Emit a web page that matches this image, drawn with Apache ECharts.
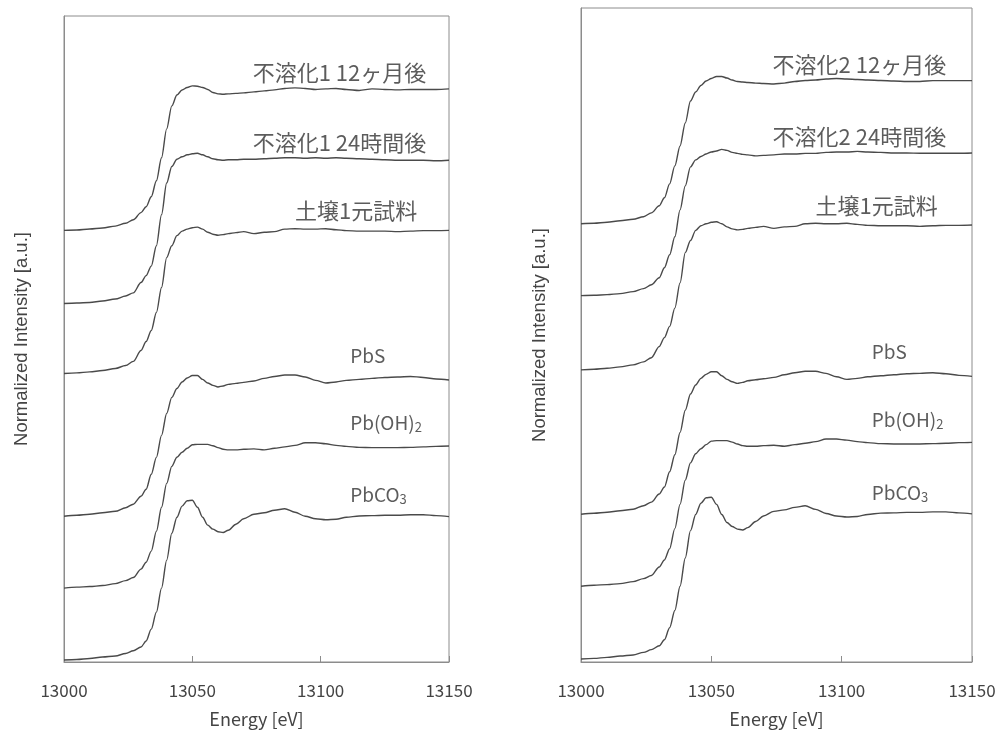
<!DOCTYPE html>
<html>
<head>
<meta charset="utf-8">
<script src="https://cdn.jsdelivr.net/npm/echarts@6/dist/echarts.min.js"></script>
<style>
  html, body { margin: 0; padding: 0; background: #fff; }
  #chart { width: 1001px; height: 733px; }
</style>
</head>
<body>
<div id="chart"></div>
<script>
// energy grid [eV]
var energy = [13000, 13005, 13010, 13015, 13020, 13024, 13027, 13030, 13032, 13034,
  13036, 13038, 13040, 13042, 13044, 13046, 13048, 13050, 13052, 13054,
  13056, 13058, 13060, 13062, 13064, 13067, 13070, 13074, 13078, 13082,
  13086, 13090, 13094, 13098, 13102, 13106, 13110, 13115, 13120, 13125,
  13130, 13135, 13140, 13145, 13150];

// normalized spectra (pre-edge = 0)
var fix1_12m = [0, 0.003, 0.01, 0.017, 0.03, 0.05, 0.075, 0.125, 0.167, 0.237,
  0.35, 0.512, 0.716, 0.878, 0.955, 0.99, 1.008, 1.019, 1.017, 1.008,
  0.994, 0.973, 0.963, 0.96, 0.963, 0.966, 0.97, 0.977, 0.984, 0.991,
  1.001, 1.005, 1.001, 0.994, 0.998, 1.001, 0.994, 0.987, 0.998, 0.994,
  0.991, 0.994, 0.994, 0.994, 0.998];
var fix1_24h = [0, 0.004, 0.007, 0.018, 0.032, 0.053, 0.075, 0.148, 0.197, 0.264,
  0.408, 0.627, 0.85, 0.967, 1.018, 1.035, 1.049, 1.056, 1.06, 1.049,
  1.035, 1.021, 1.014, 1.011, 1.014, 1.014, 1.018, 1.018, 1.021, 1.025,
  1.028, 1.028, 1.025, 1.028, 1.025, 1.028, 1.025, 1.021, 1.018, 1.014,
  1.011, 1.011, 1.011, 1.007, 1.011];
var fix2_12m = [0, 0.003, 0.01, 0.021, 0.031, 0.049, 0.076, 0.125, 0.181, 0.278,
  0.403, 0.542, 0.702, 0.855, 0.918, 0.963, 0.994, 1.012, 1.026, 1.026,
  1.015, 1.001, 0.991, 0.987, 0.984, 0.98, 0.977, 0.974, 0.98, 0.991,
  0.998, 1.001, 1.008, 1.012, 1.008, 1.005, 1.001, 0.998, 0.994, 0.991,
  0.991, 0.997, 0.997, 0.997, 0.997];
var fix2_24h = [0, 0.003, 0.007, 0.014, 0.028, 0.049, 0.076, 0.125, 0.195, 0.285,
  0.41, 0.598, 0.765, 0.897, 0.946, 0.97, 0.987, 1.001, 1.008, 1.019,
  1.012, 0.998, 0.991, 0.984, 0.981, 0.974, 0.977, 0.981, 0.987, 0.987,
  0.991, 0.991, 0.998, 1.001, 1.001, 1.005, 1.001, 0.998, 0.994, 0.994,
  0.992, 0.992, 0.992, 0.992, 0.994];
var soil1 = [0, 0.004, 0.011, 0.021, 0.035, 0.056, 0.085, 0.162, 0.225, 0.303,
  0.43, 0.606, 0.817, 0.901, 0.972, 1.004, 1.018, 1.028, 1.032, 1.018,
  0.996, 0.982, 0.975, 0.979, 0.986, 0.993, 1.0, 0.986, 0.996, 1.0,
  1.018, 1.021, 1.018, 1.018, 1.021, 1.014, 1.007, 1.004, 1.004, 1.004,
  1.0, 1.004, 1.007, 1.007, 1.009];
var pbs = [0, 0.007, 0.014, 0.025, 0.035, 0.06, 0.085, 0.141, 0.19, 0.296,
  0.415, 0.57, 0.725, 0.838, 0.901, 0.947, 0.975, 0.993, 0.993, 0.965,
  0.94, 0.923, 0.912, 0.919, 0.93, 0.937, 0.944, 0.954, 0.972, 0.986,
  0.996, 0.996, 0.982, 0.958, 0.94, 0.947, 0.958, 0.965, 0.972, 0.979,
  0.982, 0.986, 0.979, 0.968, 0.961];
var pboh2 = [0, 0.007, 0.011, 0.018, 0.032, 0.053, 0.075, 0.134, 0.183, 0.261,
  0.401, 0.57, 0.739, 0.859, 0.923, 0.958, 0.986, 1.011, 1.014, 1.014,
  1.014, 1.004, 0.991, 0.979, 0.975, 0.975, 0.979, 0.982, 0.975, 0.986,
  0.996, 1.007, 1.025, 1.025, 1.018, 1.007, 1.0, 0.993, 0.991, 0.991,
  0.991, 0.993, 0.996, 1.0, 1.002];
var pbco3 = [0, 0.004, 0.011, 0.021, 0.028, 0.046, 0.065, 0.092, 0.134, 0.218,
  0.338, 0.507, 0.704, 0.894, 1.007, 1.085, 1.123, 1.127, 1.077, 1.007,
  0.951, 0.923, 0.905, 0.899, 0.915, 0.958, 0.996, 1.028, 1.039, 1.056,
  1.067, 1.042, 1.014, 0.996, 0.989, 0.993, 1.007, 1.016, 1.018, 1.021,
  1.021, 1.025, 1.025, 1.018, 1.011];

// stacking offsets (top to bottom)
var leftOffsets = [3.044, 2.528, 2.035, 1.028, 0.521, 0.014];
var rightOffsets = [3.053, 2.552, 2.035, 1.029, 0.528, 0.021];

var leftNames = ['不溶化1 12ヶ月後', '不溶化1 24時間後', '土壌1元試料', 'PbS', 'Pb(OH)2', 'PbCO3'];
var rightNames = ['不溶化2 12ヶ月後', '不溶化2 24時間後', '土壌1元試料', 'PbS', 'Pb(OH)2', 'PbCO3'];
var leftSpectra = [fix1_12m, fix1_24h, soil1, pbs, pboh2, pbco3];
var rightSpectra = [fix2_12m, fix2_24h, soil1, pbs, pboh2, pbco3];

// label anchors [energy, stacked intensity]
var labelPos = [[13073.5, 4.16], [13073.5, 3.66], [13090, 3.18], [13111.5, 2.16], [13111.5, 1.69], [13111.5, 1.18]];

var xTicks = { min: 13000, max: 13150, interval: 50 };
var yMax = 4.556;

var lineColor = '#4a4a4a';
var frameColor = '#8c8c8c';

function toPts(vals, off) {
  return energy.map(function (e, i) { return [e, +(vals[i] + off).toFixed(4)]; });
}

function labelText(name) {
  if (name === 'Pb(OH)2') return '{n|Pb(OH)}{s|2}';
  if (name === 'PbCO3') return '{n|PbCO}{s|3}';
  if (/^[A-Za-z]/.test(name)) return '{n|' + name + '}';
  return '{j|' + name + '}';
}

var chart = echarts.init(document.getElementById('chart'));

var grids = [
  { left: 64, top: 16, width: 385, height: 647, show: true, borderColor: frameColor, borderWidth: 1 },
  { left: 581, top: 8, width: 391, height: 655, show: true, borderColor: frameColor, borderWidth: 1 }
];

function makeX(i) {
  return {
    type: 'value', gridIndex: i,
    min: xTicks.min, max: xTicks.max, interval: xTicks.interval,
    name: 'Energy [eV]', nameLocation: 'middle', nameGap: 48,
    nameTextStyle: { fontFamily: 'Noto Sans CJK JP', fontSize: 18, color: '#444' },
    axisLine: { show: true, lineStyle: { color: frameColor, width: 1 } },
    axisTick: { show: true, inside: true, length: 6, lineStyle: { color: frameColor } },
    axisLabel: {
      fontFamily: 'Noto Sans CJK JP', fontSize: 17, color: '#444', margin: 20,
      formatter: function (v) { return String(v); }
    },
    splitLine: { show: false }
  };
}
function makeY(i, gap) {
  return {
    type: 'value', gridIndex: i, min: 0, max: yMax,
    name: 'Normalized Intensity [a.u.]', nameLocation: 'middle', nameGap: gap,
    nameTextStyle: { fontFamily: 'Liberation Sans', fontSize: 18.5, color: '#444' },
    axisLine: { show: true, lineStyle: { color: frameColor, width: 1 } },
    axisTick: { show: false }, axisLabel: { show: false }, splitLine: { show: false }
  };
}

var series = [];
function addPanel(g, spectra, offsets, names) {
  spectra.forEach(function (s, k) {
    series.push({
      type: 'line', xAxisIndex: g, yAxisIndex: g, name: names[k],
      data: toPts(s, offsets[k]), showSymbol: false,
      smooth: 0.3, smoothMonotone: 'x',
      lineStyle: { color: lineColor, width: 1.4 }, silent: true
    });
  });
  series.push({
    type: 'scatter', xAxisIndex: g, yAxisIndex: g, symbolSize: 0, silent: true,
    data: labelPos.map(function (p, k) { return { value: p, name: names[k] }; }),
    label: {
      show: true, position: 'right', distance: 0,
      formatter: function (p) { return labelText(p.name); },
      rich: {
        j: { fontFamily: 'Noto Sans CJK JP', fontSize: 22, color: '#333', lineHeight: 24 },
        n: { fontFamily: 'Noto Sans CJK JP', fontSize: 19, color: '#333', lineHeight: 22 },
        s: { fontFamily: 'Noto Sans CJK JP', fontSize: 13, color: '#333', padding: [9, 0, 0, 0] }
      }
    }
  });
}
addPanel(0, leftSpectra, leftOffsets, leftNames);
addPanel(1, rightSpectra, rightOffsets, rightNames);

chart.setOption({
  backgroundColor: '#fff',
  animation: false,
  grid: grids,
  xAxis: [makeX(0), makeX(1)],
  yAxis: [makeY(0, 33), makeY(1, 32)],
  series: series
});
</script>
</body>
</html>
